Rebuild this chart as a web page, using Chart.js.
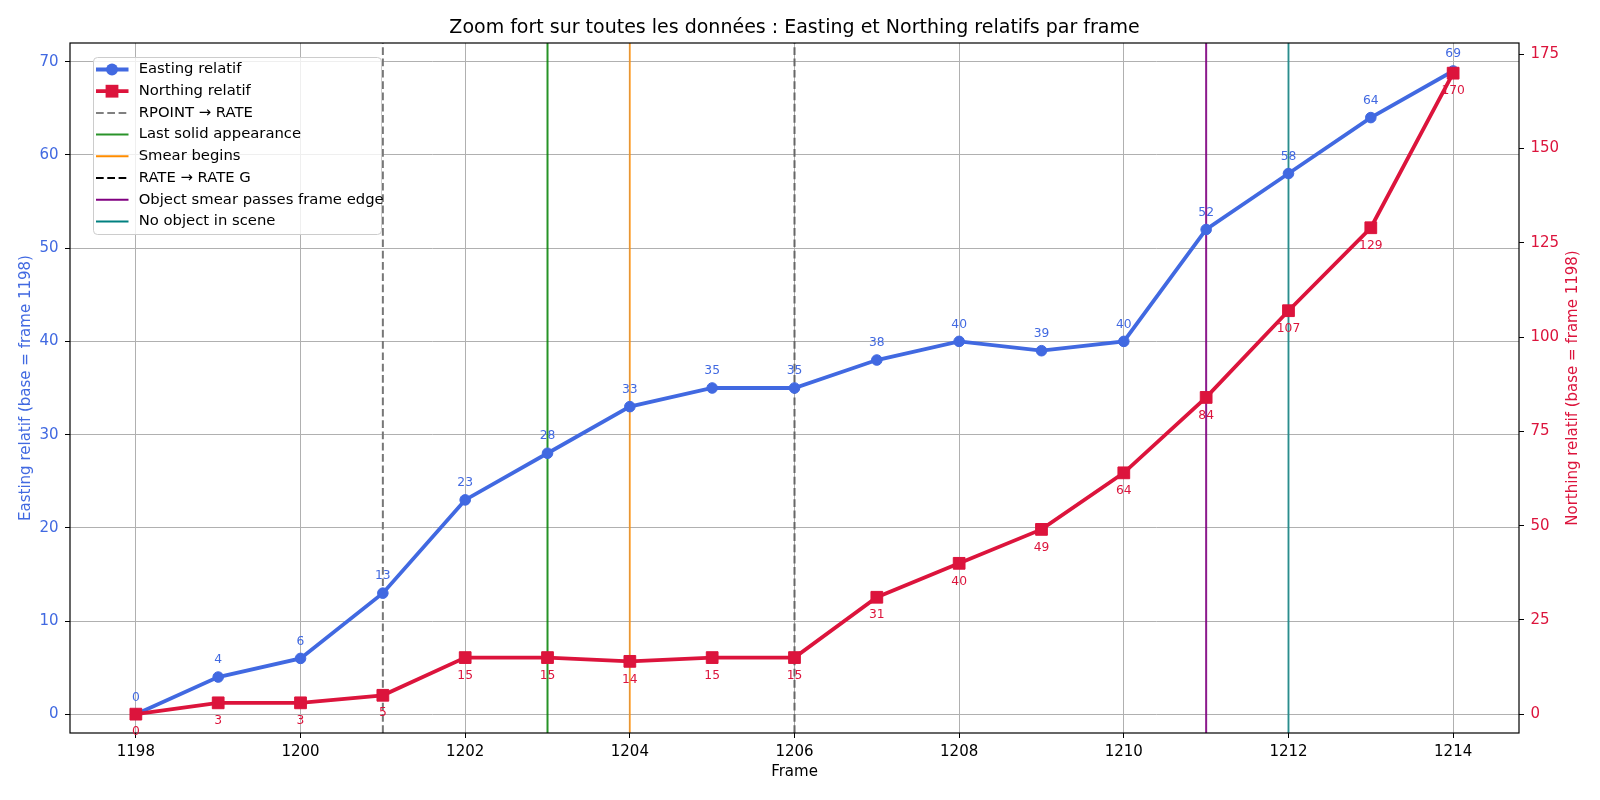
<!DOCTYPE html>
<html>
<head>
<meta charset="utf-8">
<title>Easting et Northing relatifs par frame</title>
<script src="https://cdn.jsdelivr.net/npm/chart.js@4.4.1/dist/chart.umd.min.js"></script>
<style>
  html, body { margin: 0; padding: 0; background: #fff; }
  #wrap { width: 1600px; height: 800px; }
</style>
</head>
<body>
<div id="wrap"><canvas id="chart" width="1600" height="800"></canvas></div>
<script>
// data
const frames = [1198, 1199, 1200, 1201, 1202, 1203, 1204, 1205, 1206, 1207, 1208, 1209, 1210, 1211, 1212, 1213, 1214];
const easting = [0, 4, 6, 13, 23, 28, 33, 35, 35, 38, 40, 39, 40, 52, 58, 64, 69];
const northing = [0, 3, 3, 5, 15, 15, 14, 15, 15, 31, 40, 49, 64, 84, 107, 129, 170];

const eventFrames = [1201, 1203, 1204, 1206, 1211, 1212];
const eventNames = ["RPOINT \u2192 RATE", "Last solid appearance", "Smear begins",
  "RATE \u2192 RATE G", "Object smear passes frame edge", "No object in scene"];

const xTicks = [1198, 1200, 1202, 1204, 1206, 1208, 1210, 1212, 1214];
const eastTicks = [0, 10, 20, 30, 40, 50, 60, 70];
const northTicks = [0, 25, 50, 75, 100, 125, 150, 175];

const xLimits = [1197.2, 1214.8];
const eastLimits = [-2, 72];
const northLimits = [-5, 178];

// styles
const BLUE = "#4169e1";
const RED = "#dc143c";
const FONT = '"DejaVu Sans", "Liberation Sans", sans-serif';
const LINE_W = 3.8;
const eventPlotColors = ["#777777", "rgba(0,128,0,0.85)", "rgba(255,140,0,0.7)", "#666666", "rgba(128,0,128,0.9)", "rgba(0,128,128,0.75)"];
const eventLegendColors = ["#808080", "#2a932a", "#ff8c00", "#000000", "#800080", "#008080"];
const eventDashed = [true, false, false, true, false, false];

const datasets = [
  {
    label: "Easting relatif",
    data: frames.map((f, i) => ({ x: f, y: easting[i] })),
    yAxisID: "y",
    borderColor: BLUE,
    backgroundColor: BLUE,
    borderWidth: LINE_W,
    pointStyle: "circle",
    pointRadius: 5.3,
    pointBorderWidth: 1,
    tension: 0,
    order: 1
  },
  {
    label: "Northing relatif",
    data: frames.map((f, i) => ({ x: f, y: northing[i] })),
    yAxisID: "y2",
    borderColor: RED,
    backgroundColor: RED,
    borderWidth: LINE_W,
    pointStyle: "rect",
    pointRadius: 8.3,
    pointBorderWidth: 1,
    tension: 0,
    order: 0
  }
];

eventFrames.forEach((f, i) => {
  datasets.push({
    label: eventNames[i],
    data: [{ x: f, y: eastLimits[0] }, { x: f, y: eastLimits[1] }],
    yAxisID: "y",
    borderColor: eventPlotColors[i],
    borderWidth: 2,
    borderDash: eventDashed[i] ? [7.7, 3.6] : [],
    pointRadius: 0,
    order: 2
  });
});

// title, spines, point labels, right axis title and legend
const decor = {
  id: "decor",
  afterDatasetsDraw(chart) {
    const { ctx, chartArea: a } = chart;
    ctx.save();
    ctx.strokeStyle = "#000";
    ctx.lineWidth = 1.2;
    ctx.strokeRect(a.left, a.top, a.right - a.left, a.bottom - a.top);

    ctx.font = "12.3px " + FONT;
    ctx.textAlign = "center";
    ctx.textBaseline = "middle";
    ctx.fillStyle = BLUE;
    chart.getDatasetMeta(0).data.forEach((pt, i) => {
      ctx.fillText(String(easting[i]), pt.x, pt.y - 17);
    });
    ctx.fillStyle = RED;
    chart.getDatasetMeta(1).data.forEach((pt, i) => {
      ctx.fillText(String(northing[i]), pt.x, pt.y + 18);
    });

    // main title
    ctx.fillStyle = "#000";
    ctx.font = "19px " + FONT;
    ctx.fillText("Zoom fort sur toutes les donn\u00e9es : Easting et Northing relatifs par frame", (a.left + a.right) / 2, 28.5);

    // right axis title
    ctx.save();
    ctx.translate(1573, (a.top + a.bottom) / 2);
    ctx.rotate(-Math.PI / 2);
    ctx.fillStyle = RED;
    ctx.font = "15px " + FONT;
    ctx.fillText("Northing relatif (base = frame 1198)", 0, 0);
    ctx.restore();
    ctx.restore();
  },
  afterDraw(chart) {
    const { ctx } = chart;
    const box = { x: 93, y: 57, w: 288, h: 177, r: 4 };
    ctx.save();
    ctx.beginPath();
    ctx.roundRect(box.x + 0.5, box.y + 0.5, box.w, box.h, box.r);
    ctx.fillStyle = "rgba(255,255,255,0.8)";
    ctx.fill();
    ctx.strokeStyle = "#cccccc";
    ctx.lineWidth = 1;
    ctx.stroke();

    const entries = [
      { text: "Easting relatif", color: BLUE, width: LINE_W, dash: [], marker: "circle" },
      { text: "Northing relatif", color: RED, width: LINE_W, dash: [], marker: "rect" }
    ];
    eventNames.forEach((n, i) => entries.push({
      text: n, color: eventLegendColors[i], width: 2, dash: eventDashed[i] ? [7.7, 3.6] : [], marker: null
    }));

    ctx.font = "14.8px " + FONT;
    ctx.textBaseline = "middle";
    ctx.textAlign = "left";
    entries.forEach((e, i) => {
      const y = 69.5 + i * 21.7;
      ctx.beginPath();
      ctx.setLineDash(e.dash);
      ctx.strokeStyle = e.color;
      ctx.lineWidth = e.width;
      ctx.moveTo(96, y);
      ctx.lineTo(128.5, y);
      ctx.stroke();
      ctx.setLineDash([]);
      ctx.fillStyle = e.color;
      if (e.marker === "circle") {
        ctx.beginPath();
        ctx.arc(112, y, 5.9, 0, Math.PI * 2);
        ctx.fill();
      } else if (e.marker === "rect") {
        ctx.fillRect(112 - 6.4, y - 6.4, 12.8, 12.8);
      }
      ctx.fillStyle = "#000";
      ctx.fillText(e.text, 138.7, y);
    });
    ctx.restore();
  }
};

const tickFont = { family: FONT, size: 15 };

new Chart(document.getElementById("chart"), {
  type: "line",
  data: { datasets: datasets },
  options: {
    responsive: false,
    animation: false,
    devicePixelRatio: 1,
    layout: { padding: { top: 43, left: 0, right: 0, bottom: 0 } },
    plugins: {
      legend: { display: false },
      title: { display: false },
      tooltip: { enabled: false }
    },
    scales: {
      x: {
        type: "linear",
        min: xLimits[0],
        max: xLimits[1],
        afterBuildTicks: axis => { axis.ticks = xTicks.map(v => ({ value: v })); },
        afterFit: scale => { scale.height = 67; },
        ticks: { color: "#000", font: tickFont, padding: 5, maxRotation: 0, callback: v => String(v) },
        grid: { color: "#b0b0b0", lineWidth: 1, tickLength: 5, tickColor: "#000" },
        border: { display: false },
        title: { display: true, text: "Frame", color: "#000", font: tickFont, padding: { top: 0, bottom: 18.5 } }
      },
      y: {
        position: "left",
        min: eastLimits[0],
        max: eastLimits[1],
        afterBuildTicks: axis => { axis.ticks = eastTicks.map(v => ({ value: v })); },
        afterFit: scale => { scale.width = 70; },
        ticks: { color: BLUE, font: tickFont, padding: 6.5 },
        grid: { color: "#b0b0b0", lineWidth: 1, tickLength: 5, tickColor: "#000" },
        border: { display: false },
        title: { display: true, text: "Easting relatif (base = frame 1198)", color: BLUE, font: tickFont, padding: { top: 17, bottom: 0 } }
      },
      y2: {
        position: "right",
        min: northLimits[0],
        max: northLimits[1],
        afterBuildTicks: axis => { axis.ticks = northTicks.map(v => ({ value: v })); },
        afterFit: scale => { scale.width = 81; },
        ticks: { color: RED, font: tickFont, padding: 6.5 },
        grid: { drawOnChartArea: false, tickLength: 5, tickColor: "#000" },
        border: { display: false }
      }
    }
  },
  plugins: [decor]
});
</script>
</body>
</html>
